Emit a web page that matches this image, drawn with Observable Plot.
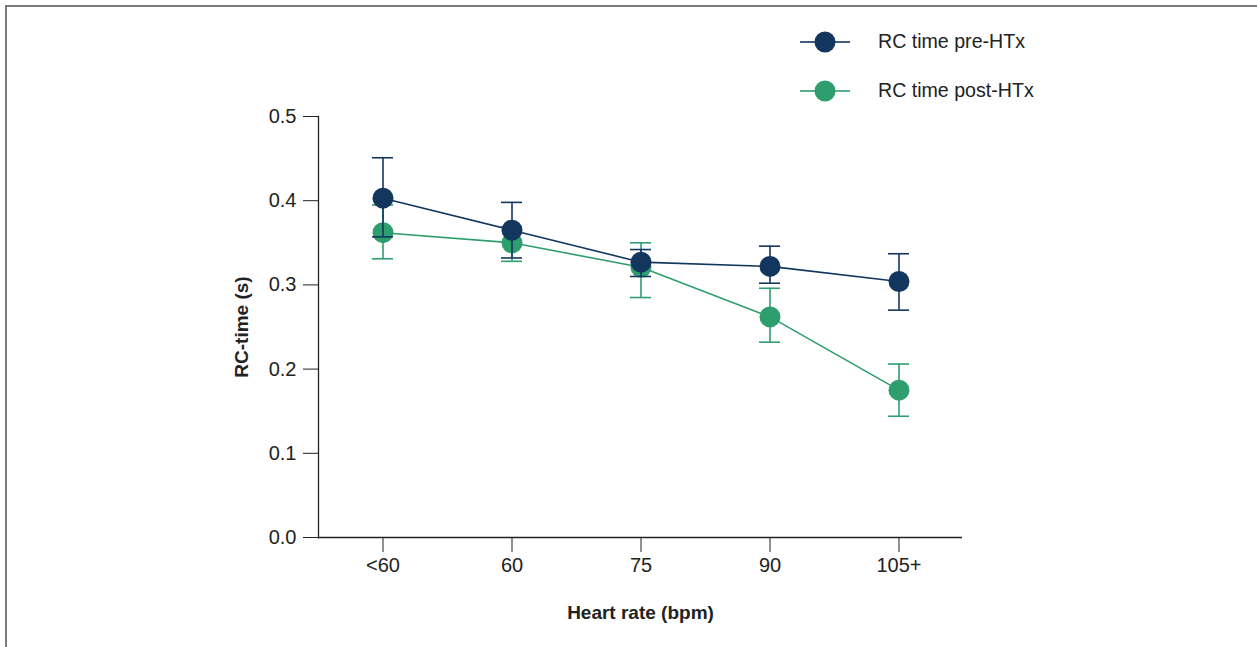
<!DOCTYPE html>
<html>
<head>
<meta charset="utf-8">
<script src="https://cdn.jsdelivr.net/npm/d3@7"></script>
<script src="https://cdn.jsdelivr.net/npm/@observablehq/plot@0.6"></script>
<style>
  html, body { margin: 0; padding: 0; background: #fff; }
  #wrap { position: relative; width: 1257px; height: 647px; overflow: hidden;
    font-family: "Liberation Sans", Arial, sans-serif; }
  #border { position: absolute; left: 5px; top: 5px; width: 1300px; height: 700px;
    border-left: 2px solid #7c7c7c; border-top: 2px solid #7c7c7c; }
  #chart { position: absolute; left: 0; top: 0; }
  #chart svg { font-family: "Liberation Sans", Arial, sans-serif; }
  g[aria-label="y-axis label"] text, g[aria-label="x-axis label"] text { font-weight: bold; font-size: 19px; }
  #legend { position: absolute; left: 798px; top: 17px; color: #222; font-size: 19.6px; }
  .item { display: flex; align-items: center; height: 49px; }
  .item svg { margin-right: 26px; }
</style>
</head>
<body>
<div id="wrap">
  <div id="border"></div>
  <div id="chart"></div>
  <div id="legend"></div>
</div>
<script>
const categories = ["<60", "60", "75", "90", "105+"];
const seriesNames = ["RC time pre-HTx", "RC time post-HTx"];
const seriesColors = ["#13365f", "#2f9e6e"];
const preMean = [0.403, 0.365, 0.327, 0.322, 0.304];
const preLow  = [0.357, 0.332, 0.310, 0.302, 0.270];
const preHigh = [0.451, 0.398, 0.342, 0.346, 0.337];
const postMean = [0.362, 0.350, 0.321, 0.262, 0.175];
const postLow  = [0.331, 0.328, 0.285, 0.232, 0.144];
const postHigh = [0.395, 0.369, 0.350, 0.296, 0.206];
const yTicks = [0, 0.1, 0.2, 0.3, 0.4, 0.5];

function rows(mean, low, high, s) {
  return categories.map((c, i) => ({cat: c, v: mean[i], lo: low[i], hi: high[i], s}));
}
const pre = rows(preMean, preLow, preHigh, seriesNames[0]);
const post = rows(postMean, postLow, postHigh, seriesNames[1]);

function seriesMarks(data, color) {
  return [
    Plot.ruleX(data, {x: "cat", y1: "lo", y2: "hi", stroke: color, strokeWidth: 1.6}),
    Plot.tickY(data, {x: "cat", y: "lo", stroke: color, strokeWidth: 1.6}),
    Plot.tickY(data, {x: "cat", y: "hi", stroke: color, strokeWidth: 1.6}),
    Plot.line(data, {x: "cat", y: "v", stroke: color, strokeWidth: 1.6}),
    Plot.dot(data, {x: "cat", y: "v", r: 10.5, fill: color, stroke: "none"})
  ];
}

const chart = Plot.plot({
  width: 1257,
  height: 647,
  marginLeft: 318,
  marginRight: 295,
  marginTop: 116,
  marginBottom: 110,
  style: {fontSize: "20px", color: "#222", background: "transparent"},
  x: {type: "band", domain: categories, paddingInner: 1 - 21 / 129, paddingOuter: 0.4147, align: 0.5},
  y: {domain: [0, 0.5]},
  marks: [
    Plot.frame({anchor: "left", stroke: "#222", strokeWidth: 1.3}),
    Plot.ruleY([0], {stroke: "#222", strokeWidth: 1.3}),
    Plot.axisX({tickSize: 15, tickPadding: 5, label: "Heart rate (bpm)", labelAnchor: "center", labelOffset: 81, labelArrow: "none", fontSize: 20}),
    Plot.axisY({ticks: yTicks, tickFormat: d3.format(".1f"), tickSize: 15, tickPadding: 7, label: "RC-time (s)", labelAnchor: "center", labelOffset: 84, labelArrow: "none", fontSize: 20}),
    ...seriesMarks(post, seriesColors[1]),
    ...seriesMarks(pre, seriesColors[0])
  ]
});
document.getElementById("chart").appendChild(chart);

const legend = document.getElementById("legend");
seriesNames.forEach((name, i) => {
  const item = document.createElement("div");
  item.className = "item";
  item.innerHTML = `<svg width="54" height="24"><line x1="2" x2="52" y1="12" y2="12" stroke="${seriesColors[i]}" stroke-width="2" stroke-opacity="0.8"/><circle cx="27" cy="12" r="10.5" fill="${seriesColors[i]}"/></svg><span>${name}</span>`;
  legend.appendChild(item);
});
</script>
</body>
</html>
